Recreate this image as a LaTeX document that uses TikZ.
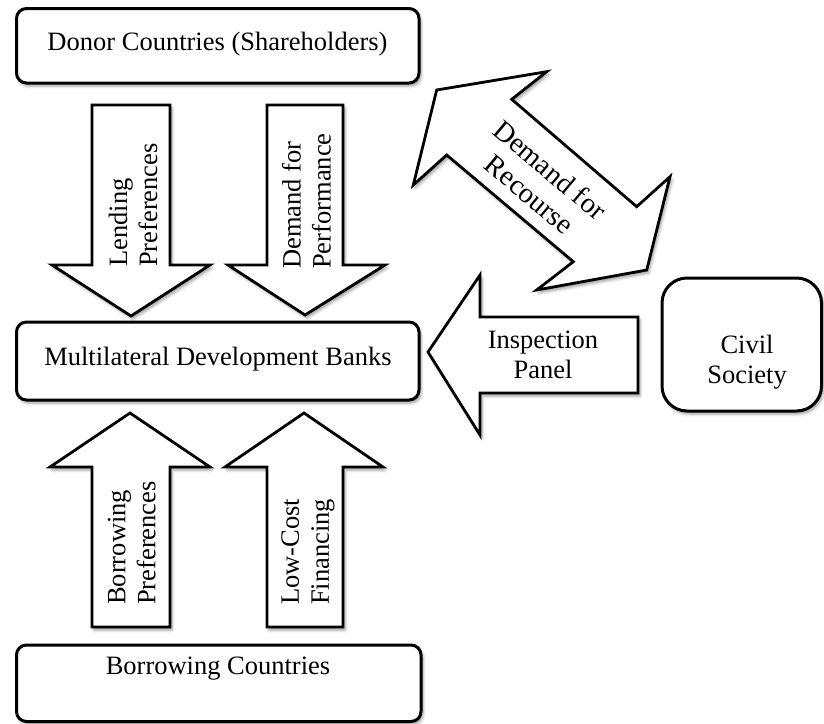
\documentclass[tikz,border=0pt]{standalone}
\usepackage{fontspec}
\setmainfont{Liberation Serif}
\usetikzlibrary{shadows.blur}
\begin{document}
\begin{tikzpicture}[x=1pt,y=-1pt,
  softshadow/.style={blur shadow={shadow xshift=2pt,shadow yshift=-3pt,shadow blur radius=3pt,shadow opacity=40}},
  box/.style={draw=black,line width=3pt,fill=white,rounded corners=10pt,softshadow},
  roundbox/.style={box,rounded corners=25pt},
  blockarrow/.style={draw=black,line width=2.8pt,fill=white,line join=miter,softshadow},
  lbl/.style={font=\fontsize{26.5}{30}\selectfont,inner sep=0pt},
  vlbl/.style={lbl,rotate=90,align=left,anchor=west}
]
\useasboundingbox (0,0) rectangle (824,723);

% boxes
\draw[box] (16.5,8.5) rectangle (419,83);
\draw[box] (16.5,322) rectangle (419,400);
\draw[box] (16.5,645) rectangle (421,721.5);
\draw[roundbox] (662,278) rectangle (821.5,411);

% block arrows down
\draw[blockarrow] (92,105) -- (170,105) -- (170,265) -- (210,265) -- (131,316) -- (52,265) -- (92,265) -- cycle;
\draw[blockarrow] (267,105) -- (343,105) -- (343,265) -- (385,265) -- (305,315) -- (228,265) -- (267,265) -- cycle;
% block arrows up
\draw[blockarrow] (92,627) -- (170,627) -- (170,467) -- (210,467) -- (130,413) -- (50,467) -- (92,467) -- cycle;
\draw[blockarrow] (267,627) -- (343,627) -- (343,467) -- (383,467) -- (304,413) -- (225,467) -- (267,467) -- cycle;
% inspection panel arrow
\draw[blockarrow] (638,317) -- (480,317) -- (480,275) -- (428,352) -- (480,435) -- (480,393) -- (638,393) -- cycle;
% double arrow
\draw[blockarrow] (436.7,90) -- (546.7,71.7) -- (511.7,99.3) -- (636.7,206.7) -- (670,176.7) -- (646.7,270) -- (536.7,290) -- (573.3,261.7) -- (446.7,155) -- (413.3,185) -- cycle;

% texts
\node[lbl,anchor=base] (donor) at (217.5,50) {Donor Countries (Shareholders)};
\node[lbl,anchor=base] (mdb) at (218,365) {Multilateral Development Banks};
\node[lbl,anchor=base] (borrow) at (218,674) {Borrowing Countries};
\node[lbl,align=center] (civil) at (747,362) {Civil\\Society};
\node[lbl,align=center] (inspect) at (543,355) {Inspection\\Panel};
\node[lbl,align=center,rotate=-40,font=\fontsize{28.5}{32}\selectfont] (recourse) at (540,182) {Demand for\\Recourse};
\node[vlbl] (lend) at (133,267) {Lending\\Preferences};
\node[vlbl] (perf) at (306.5,269) {Demand for\\Performance};
\node[vlbl] (borpref) at (131.7,605) {Borrowing\\Preferences};
\node[vlbl] (lowcost) at (308,605) {Low-Cost\\Financing};
\end{tikzpicture}
\end{document}
